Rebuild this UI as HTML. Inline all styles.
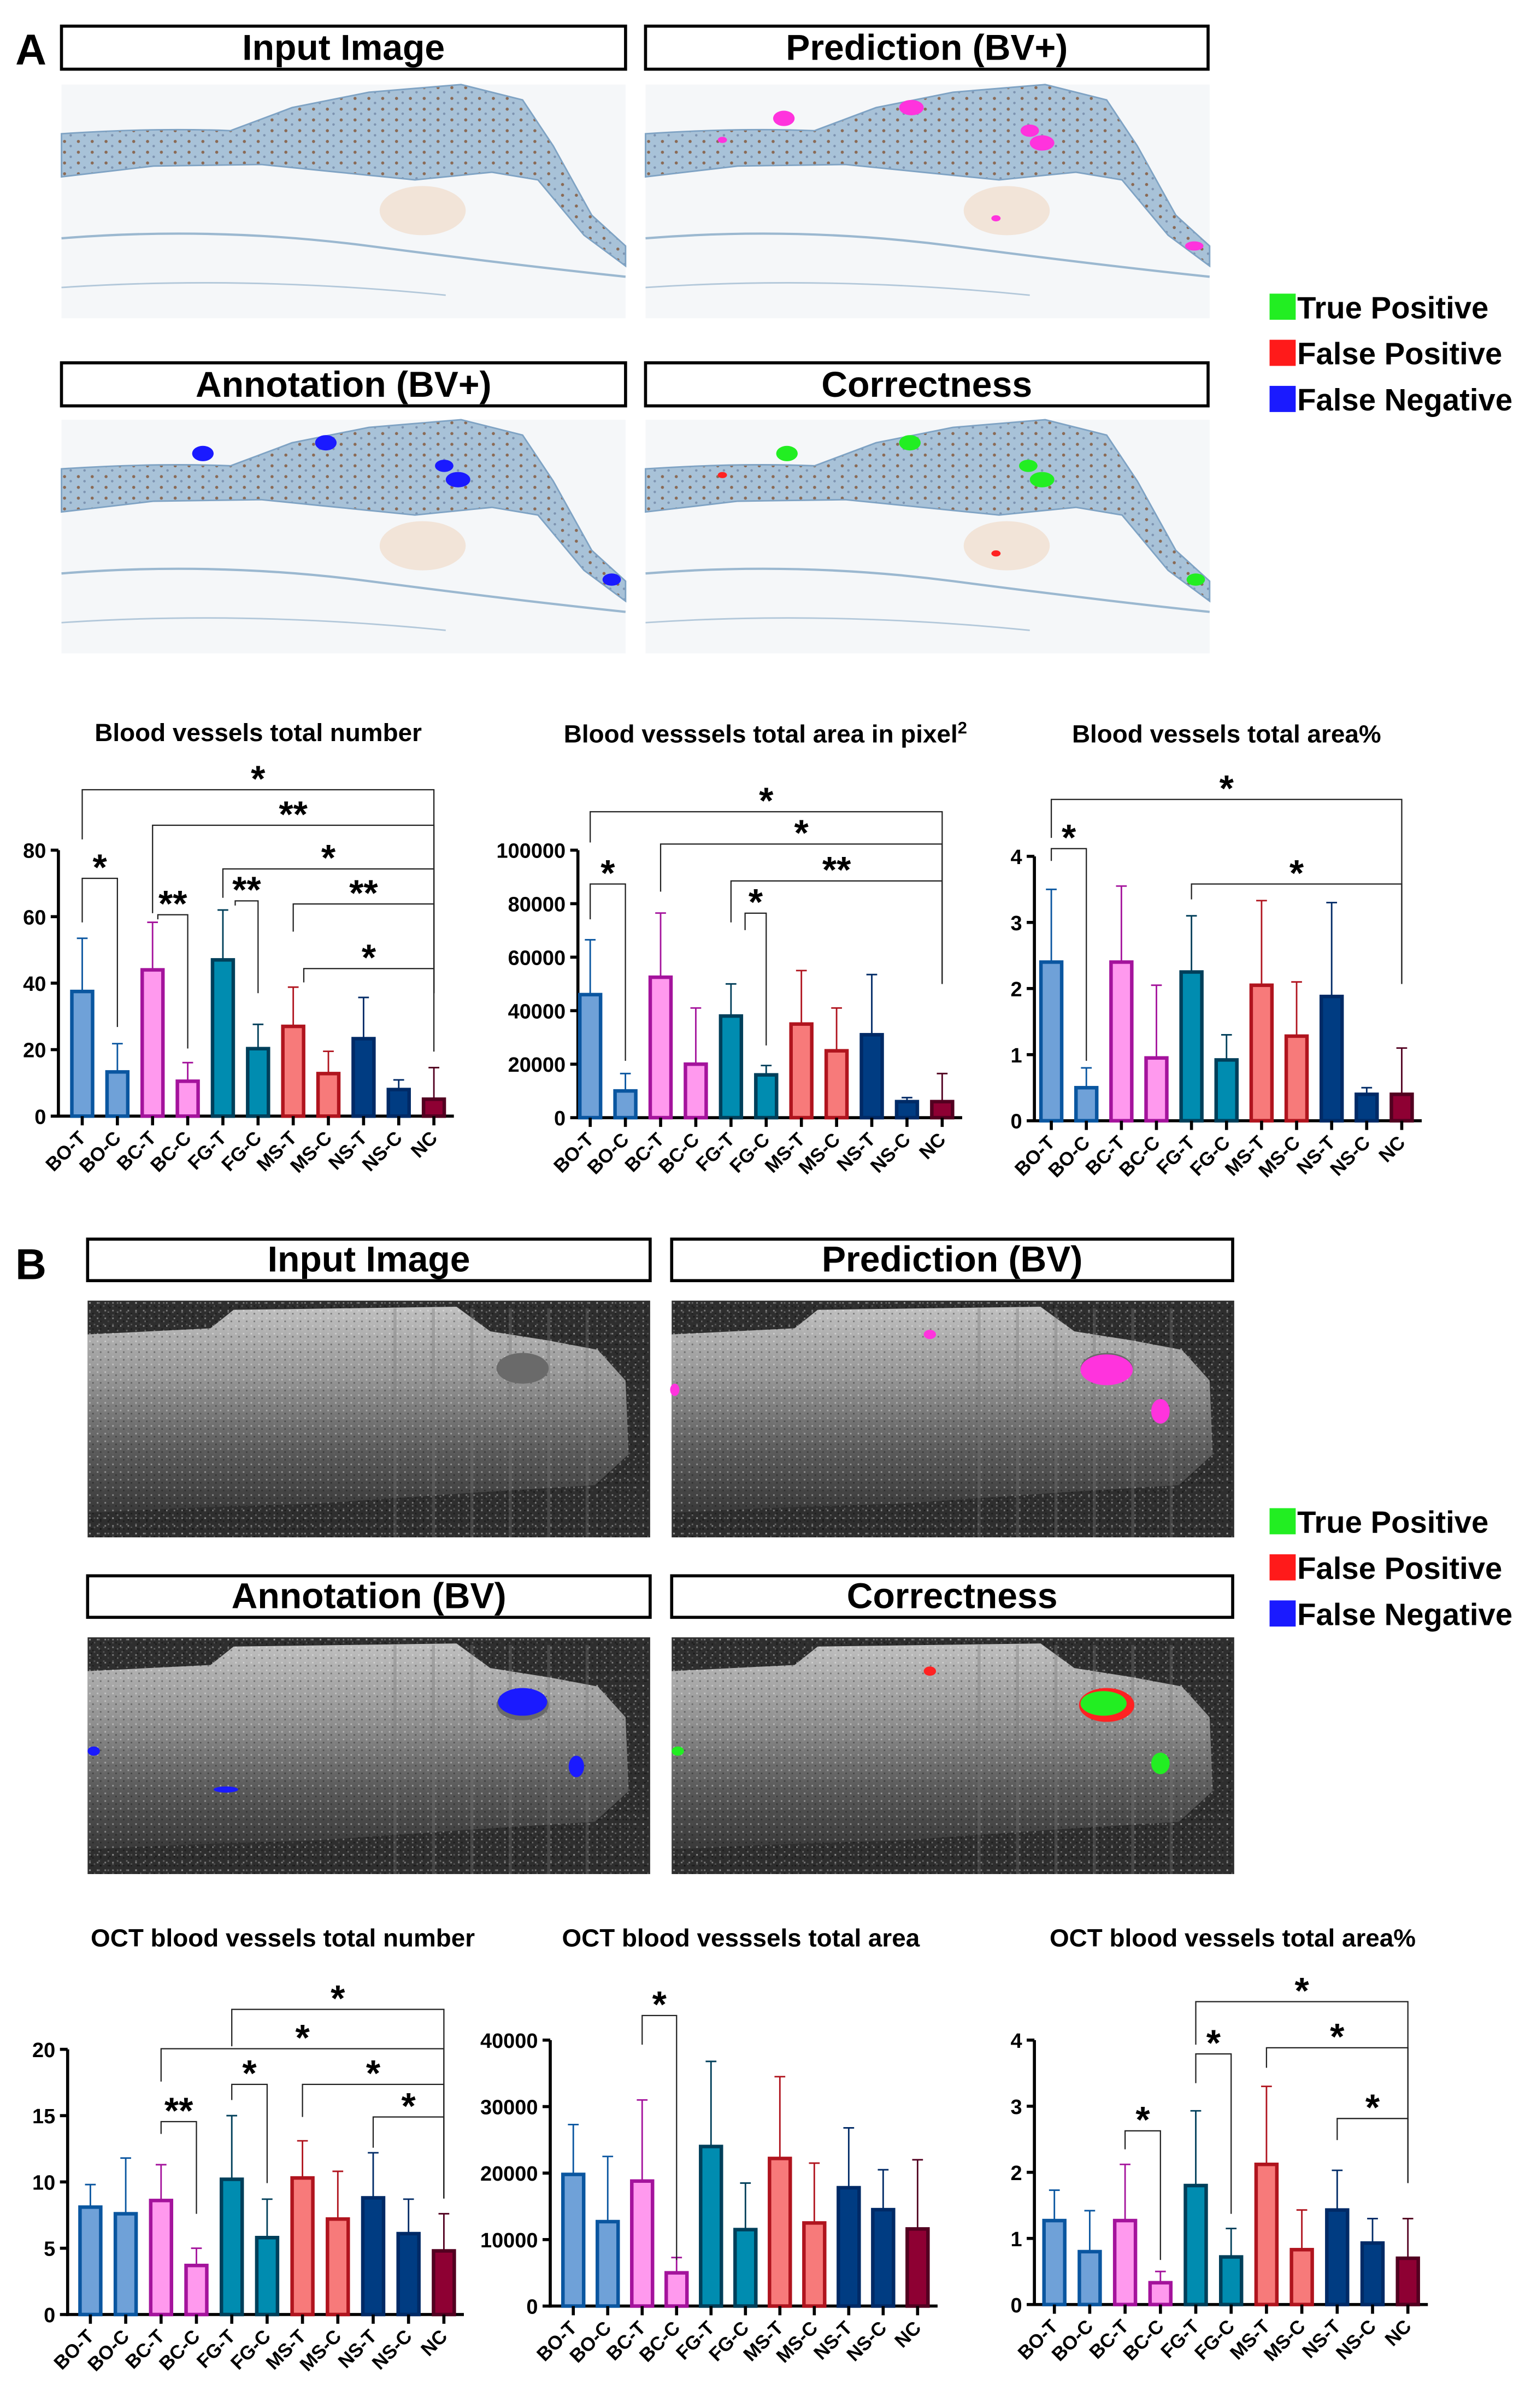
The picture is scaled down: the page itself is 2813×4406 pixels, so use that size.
<!DOCTYPE html>
<html><head><meta charset="utf-8">
<style>
html,body{margin:0;padding:0;background:#fff;}
svg{display:block;}
text{font-family:"Liberation Sans",Arial,sans-serif;}
</style></head>
<body>
<svg id="fig" width="2813" height="4406" viewBox="0 0 1000 1566.3" xmlns="http://www.w3.org/2000/svg">
<defs>
<linearGradient id="octg" x1="0" y1="0" x2="0" y2="1">
<stop offset="0" stop-color="#d0d0d0"/><stop offset="0.35" stop-color="#a0a0a0"/><stop offset="0.7" stop-color="#606060"/><stop offset="1" stop-color="#3a3a3a"/>
</linearGradient>
<pattern id="noise" width="6" height="6" patternUnits="userSpaceOnUse">
<rect width="6" height="6" fill="#2e2e2e"/><rect x="1" y="1" width="1" height="1" fill="#666"/><rect x="4" y="3" width="1" height="1" fill="#555"/><rect x="2" y="4" width="1" height="1" fill="#1c1c1c"/>
</pattern>
<pattern id="tnoise" width="5" height="5" patternUnits="userSpaceOnUse">
<rect x="1" y="1" width="1" height="1" fill="#fff" opacity="0.4"/><rect x="3" y="3" width="1" height="1" fill="#000" opacity="0.35"/>
</pattern>
<pattern id="speck" width="9" height="7" patternUnits="userSpaceOnUse">
<rect width="9" height="7" fill="#a8c2d8"/><circle cx="2" cy="2" r="1" fill="#8a6a55"/><circle cx="6" cy="5" r="0.8" fill="#7d93b0"/>
</pattern>
</defs>
<g id="panels"></g>
<g id="charts"></g>
</svg>
<script>
const NS='http://www.w3.org/2000/svg';
const svg=document.getElementById('fig');
const P=document.getElementById('panels');
const C=document.getElementById('charts');
function el(t,a,p){const e=document.createElementNS(NS,t);for(const k in a)e.setAttribute(k,a[k]);(p||svg).appendChild(e);return e;}

// ---------- data ----------
const categories=['BO-T','BO-C','BC-T','BC-C','FG-T','FG-C','MS-T','MS-C','NS-T','NS-C','NC'];
const fills=['#6fa1d8','#6fa1d8','#ff99ee','#ff99ee','#008cb0','#008cb0','#f77a7a','#f77a7a','#003c82','#003c82','#8e0033'];
const strokes=['#0a56a0','#0a56a0','#a4139c','#a4139c','#003f5a','#003f5a','#b0141e','#b0141e','#002a66','#002a66','#520020'];

const a1Means=[37.5,13.3,44,10.5,47,20.3,27,12.8,23.3,8,5.1];
const a1Errs=[53.5,21.8,58.3,16.1,62,27.6,38.8,19.5,35.7,10.9,14.6];
const a1Ticks=[0,20,40,60,80];
const a2Means=[46000,10000,52500,20000,38000,16000,35000,25000,31000,6000,6000];
const a2Errs=[66500,16500,76500,41000,50000,19500,55000,41000,53500,7500,16500];
const a2Ticks=[0,20000,40000,60000,80000,100000];
const a3Means=[2.4,0.5,2.4,0.95,2.25,0.92,2.05,1.28,1.88,0.4,0.4];
const a3Errs=[3.5,0.8,3.55,2.05,3.1,1.3,3.33,2.1,3.3,0.5,1.1];
const a3Ticks=[0,1,2,3,4];
const b1Means=[8.1,7.6,8.6,3.7,10.2,5.8,10.3,7.2,8.8,6.1,4.8];
const b1Errs=[9.8,11.8,11.3,5,15,8.7,13.1,10.8,12.2,8.7,7.6];
const b1Ticks=[0,5,10,15,20];
const b2Means=[19800,12700,18800,5000,24000,11500,22200,12500,17800,14500,11600];
const b2Errs=[27300,22500,31000,7300,36800,18500,34500,21500,26800,20500,22000];
const b2Ticks=[0,10000,20000,30000,40000];
const b3Means=[1.27,0.8,1.27,0.33,1.8,0.72,2.12,0.83,1.43,0.93,0.7];
const b3Errs=[1.73,1.42,2.12,0.5,2.93,1.15,3.3,1.43,2.03,1.3,1.3];
const b3Ticks=[0,1,2,3,4];

// significance brackets: [from index, to index, label]
const a1Sig=[[0,10,'*'],[2,10,'**'],[4,10,'*'],[6,10,'**'],[6.3,10,'*'],[0,1,'*'],[2.15,3,'**'],[4.35,5,'**']];
const a2Sig=[[0,10,'*'],[2,10,'*'],[4,10,'**'],[0,1,'*'],[4.4,5,'*']];
const a3Sig=[[0,10,'*'],[0,1,'*'],[4,10,'*']];
const b1Sig=[[4,10,'*'],[2,10,'*'],[4,5,'*'],[6,10,'*'],[8,10,'*'],[2,3,'**']];
const b2Sig=[[2,3,'*']];
const b3Sig=[[4,10,'*'],[4,5,'*'],[6,10,'*'],[2,3,'*'],[8,10,'*']];

// ---------- chart drawing ----------
function drawChart(name,cfg,means,errs,ticks,sig,layout){
  const g=el('g',{},C);
  
  
  const ymax=ticks[ticks.length-1];
  const ys=v=>cfg.y0-(v/ymax)*(cfg.y0-cfg.yTop);
  const xs=i=>cfg.x0+i*cfg.step;
  const t=el('text',{x:cfg.tx,y:cfg.ty,'text-anchor':'middle','font-size':16.3,'font-weight':'bold'},g);
  
  
  t.textContent=cfg.title;
  if(cfg.sup){const s=el('tspan',{'font-size':11,dy:-6},t);s.textContent=cfg.sup;}
  const ax=el('line',{x1:cfg.ax,y1:cfg.y0+1,x2:cfg.ax,y2:cfg.yTop,stroke:'#000','stroke-width':2},g);
  
  
  ticks.forEach(v=>{
    el('line',{x1:cfg.ax-5,y1:ys(v),x2:cfg.ax,y2:ys(v),stroke:'#000','stroke-width':2},g);
    const tl=el('text',{x:cfg.ax-8,y:ys(v)+5,'text-anchor':'end','font-size':13.5,'font-weight':'bold'},g);
    
    
    tl.textContent=v;
  });
  const bl=el('line',{x1:cfg.ax-1,y1:cfg.y0,x2:xs(10)+13,y2:cfg.y0,stroke:'#000','stroke-width':2},g);
  
  
  const bw=13.5;
  categories.forEach((c,i)=>{
    const x=xs(i);
    const el1=el('line',{x1:x,y1:ys(means[i]),x2:x,y2:ys(errs[i]),stroke:strokes[i],'stroke-width':1},g);
    
    
    el('line',{x1:x-3.5,y1:ys(errs[i]),x2:x+3.5,y2:ys(errs[i]),stroke:strokes[i],'stroke-width':1},g);
    const r=el('rect',{x:x-bw/2,y:ys(means[i]),width:bw,height:cfg.y0-ys(means[i]),fill:fills[i],stroke:strokes[i],'stroke-width':2.3},g);
    
    
    el('line',{x1:x,y1:cfg.y0,x2:x,y2:cfg.y0+6,stroke:'#000','stroke-width':2},g);
    const xl=el('text',{x:x+3,y:cfg.y0+15,'text-anchor':'end','font-size':12.5,'font-weight':'bold',transform:`rotate(-45 ${x+3} ${cfg.y0+15})`},g);
    
    
    xl.textContent=c;
  });
  sig.forEach((s,k)=>{
    const L=layout[k];
    const xa=xs(s[0]),xb=xs(s[1]);
    const p=el('path',{d:`M${xa},${L[1]} V${L[0]} H${xb} V${L[2]}`,fill:'none',stroke:'#222','stroke-width':0.8},g);
    
    
    const st=el('text',{x:(xa+xb)/2,y:L[0]+1,'text-anchor':'middle','font-size':24,'font-weight':'bold'},g);
    
    
    st.textContent=s[2];
  });
}
drawChart('chart-a-total-number',{title:'Blood vessels total number',tx:168,ty:482,ax:38,x0:53.5,step:22.88,y0:726,yTop:553},a1Means,a1Errs,a1Ticks,a1Sig,
 [[513.7,546,646],[536.8,594,646],[565.2,584,646],[588,606,646],[630,639,684],[571.3,600,668],[595,598,682],[586,589,646]]);
drawChart('chart-a-total-area',{title:'Blood vesssels total area in pixel',sup:'2',tx:498,ty:483,ax:376,x0:384,step:22.9,y0:727,yTop:553},a2Means,a2Errs,a2Ticks,a2Sig,
 [[528,548,640],[549,580,640],[573,600,640],[575,598,690],[594,605,680]]);
drawChart('chart-a-area-percent',{title:'Blood vessels total area%',tx:798,ty:483,ax:673,x0:684,step:22.8,y0:729,yTop:557},a3Means,a3Errs,a3Ticks,a3Sig,
 [[520,545,640],[552,560,690],[575,585,640]]);
drawChart('chart-b-total-number',{title:'OCT blood vessels total number',tx:184,ty:1266,ax:44,x0:58.8,step:23,y0:1505.5,yTop:1333},b1Means,b1Errs,b1Ticks,b1Sig,
 [[1307,1331,1430],[1332.6,1354,1430],[1355.8,1366,1420],[1355.8,1377,1430],[1377,1397,1430],[1380,1388,1440]]);
drawChart('chart-b-total-area',{title:'OCT blood vesssels total area',tx:482,ty:1266,ax:358,x0:373,step:22.4,y0:1500,yTop:1327},b2Means,b2Errs,b2Ticks,b2Sig,
 [[1311,1330,1470]]);
drawChart('chart-b-area-percent',{title:'OCT blood vessels total area%',tx:802,ty:1266,ax:673,x0:686,step:23,y0:1499,yTop:1327},b3Means,b3Errs,b3Ticks,b3Sig,
 [[1302,1330,1420],[1336,1355,1440],[1332,1345,1420],[1386,1398,1470],[1378,1392,1420]]);

// ---------- image panels ----------
function titleBox(x,y,w,h,txt,name){
  const g=el('g',{},P);
  
  
  el('rect',{x:x,y:y,width:w,height:h,fill:'#fff',stroke:'#000','stroke-width':2},g);
  const t=el('text',{x:x+w/2,y:y+h-6,'text-anchor':'middle','font-size':23.5,'font-weight':'bold'},g);
  t.textContent=txt;
}
function histo(x,y,blobs,name){
  const g=el('g',{transform:`translate(${x},${y})`},P);
  
  
  el('rect',{width:367,height:152,fill:'#f5f7f9'},g);
  el('path',{d:'M0,32 Q60,28 110,30 L150,15 L200,5 L260,0 L300,10 L320,40 L345,85 L367,105 L367,118 L340,98 L310,62 L280,57 L230,62 L180,57 L130,52 L60,53 L0,60 Z',fill:'url(#speck)',stroke:'#7fa3c4','stroke-width':1},g);
  el('path',{d:'M0,100 Q100,92 200,105 T367,125',fill:'none',stroke:'#9bb8d0','stroke-width':1.5},g);
  el('path',{d:'M0,132 Q120,124 250,137',fill:'none',stroke:'#b3c8da','stroke-width':1},g);
  el('ellipse',{cx:235,cy:82,rx:28,ry:16,fill:'#f1dccb',opacity:0.7},g);
  blobs.forEach(b=>el('ellipse',{cx:b[0],cy:b[1],rx:b[2],ry:b[3],fill:b[4]},g));
}
function oct(x,y,blobs,name){
  const g=el('g',{transform:`translate(${x},${y})`},P);
  
  
  el('rect',{width:366,height:154,fill:'url(#noise)'},g);
  el('path',{d:'M0,22 L80,18 L95,6 L240,4 L262,20 L300,26 L332,32 L350,52 L352,100 L330,120 L250,125 L150,132 L60,135 L0,138 Z',fill:'url(#octg)',opacity:0.9},g);
  el('rect',{width:366,height:154,fill:'url(#tnoise)'},g);
  for(let i=0;i<6;i++) el('line',{x1:200+i*25,y1:5,x2:200+i*25,y2:154,stroke:'#777','stroke-width':2,opacity:0.35},g);
  el('ellipse',{cx:283,cy:44,rx:17,ry:10,fill:'#6a6a6a'},g);
  blobs.forEach(b=>el('ellipse',{cx:b[0],cy:b[1],rx:b[2],ry:b[3],fill:b[4]},g));
}
const M='#ff33dd',B='#1a1aff',G='#22ee22',R='#ff2222';
function panelLetter(x,y,t){const e=el('text',{x:x,y:y,'font-size':28,'font-weight':'bold'},P);e.textContent=t;}
panelLetter(10,42,'A');panelLetter(10,832,'B');
titleBox(40,17,367,28,'Input Image','title-input-a');
titleBox(420,17,366,28,'Prediction (BV+)','title-prediction-a');
titleBox(40,236,367,28,'Annotation (BV+)','title-annotation-a');
titleBox(420,236,366,28,'Correctness','title-correctness-a');
histo(40,55,[],'image-input-a');
histo(420,55,[[90,22,7,5,M],[173,15,8,5,M],[250,30,6,4,M],[258,38,8,5,M],[357,105,6,3,M],[228,87,3,2,M],[50,36,3,2,M]],'image-prediction-a');
histo(40,273,[[92,22,7,5,B],[172,15,7,5,B],[249,30,6,4,B],[258,39,8,5,B],[358,104,6,4,B]],'image-annotation-a');
histo(420,273,[[92,22,7,5,G],[172,15,7,5,G],[249,30,6,4,G],[258,39,8,5,G],[358,104,6,4,G],[228,87,3,2,R],[50,36,3,2,R]],'image-correctness-a');
titleBox(57,806,366,27,'Input Image','title-input-b');
titleBox(437,806,365,27,'Prediction (BV)','title-prediction-b');
titleBox(57,1025,366,27,'Annotation (BV)','title-annotation-b');
titleBox(437,1025,365,27,'Correctness','title-correctness-b');
oct(57,846,[],'image-input-b');
oct(437,846,[[283,45,17,10,M],[318,72,6,8,M],[168,22,4,3,M],[2,58,3,4,M]],'image-prediction-b');
oct(57,1065,[[283,42,16,9,B],[318,84,5,7,B],[90,99,8,2,B],[4,74,4,3,B]],'image-annotation-b');
oct(437,1065,[[283,44,18,11,R],[281,43,15,8,G],[318,82,6,7,G],[168,22,4,3,R],[4,74,4,3,G]],'image-correctness-b');
function legend(x,y,name){
  const g=el('g',{},P);
  
  
  [['True Positive','#22ee22'],['False Positive','#ff1a1a'],['False Negative','#1a1aff']].forEach((e,i)=>{
    el('rect',{x:x,y:y+i*30-12,width:17,height:17,fill:e[1]},g);
    const t=el('text',{x:x+18,y:y+i*30+4,'font-size':20,'font-weight':'bold'},g);
    t.textContent=e[0];
  });
}
legend(826,203,'legend-a');
legend(826,993,'legend-b');
</script>
</body></html>
